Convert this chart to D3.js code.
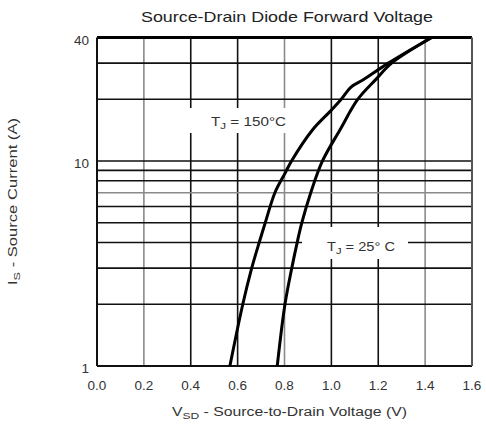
<!DOCTYPE html>
<html><head><meta charset="utf-8">
<script src="https://cdn.jsdelivr.net/npm/d3@7"></script>
<style>body{margin:0;background:#fff}svg{display:block}text{font-family:"Liberation Sans",Arial,sans-serif}</style>
</head><body><svg id="c" width="486" height="425"></svg>
<script>
const xTicks = [0.0,0.2,0.4,0.6,0.8,1.0,1.2,1.4,1.6];
const xTickLabels = ["0.0","0.2","0.4","0.6","0.8","1.0","1.2","1.4","1.6"];
const yGrid = [2,3,4,5,6,7,8,9,10,20,30];
const yTicks = [1,10,40];
const yTickLabels = ["1","10","40"];
// Tj = 150°C
const v150 = [0.567,0.622,0.660,0.692,0.718,0.759,0.802,0.830,0.920,1.000,1.042,1.085,1.136,1.243,1.428];
const i150 = [1,2,3,4,5,7,8.7,10,14.2,17.7,20,23.0,24.9,30,40];
// Tj = 25°C
const v25 = [0.769,0.802,0.831,0.854,0.874,0.912,0.962,1.037,1.113,1.190,1.257,1.428];
const i25 = [1,2,3,4,5,7,10,14.2,20,25,30,40];

const svg = d3.select("#c");
const x = d3.scaleLinear().domain([0,1.6]).range([97,472]);
const y = d3.scaleLog().domain([1,40]).range([366,37.5]);
const lightV = new Set([0.2,0.8,1.4]);
const lightH = new Set([7]);

const g = svg.append("g");
g.selectAll("line.v").data(xTicks.slice(1,-1)).enter().append("line")
  .attr("x1",d=>x(d)).attr("x2",d=>x(d)).attr("y1",y(40)).attr("y2",y(1))
  .attr("stroke",d=>lightV.has(d)?"#8a8a8a":"#111").attr("stroke-width",1.6);
g.selectAll("line.h").data(yGrid).enter().append("line")
  .attr("x1",x(0)).attr("x2",x(1.6)).attr("y1",d=>y(d)).attr("y2",d=>y(d))
  .attr("stroke",d=>lightH.has(d)?"#8a8a8a":"#111").attr("stroke-width",1.6);

g.append("rect").attr("x",175).attr("y",108).attr("width",117).attr("height",25).attr("fill","#fff");
g.append("rect").attr("x",302).attr("y",227).attr("width",106).attr("height",32).attr("fill","#fff");

g.append("line").attr("x1",x(0)).attr("x2",x(1.6)).attr("y1",y(40)).attr("y2",y(40)).attr("stroke","#000").attr("stroke-width",3);
g.append("line").attr("x1",x(0)).attr("x2",x(1.6)).attr("y1",y(1)).attr("y2",y(1)).attr("stroke","#111").attr("stroke-width",2);
g.append("line").attr("x1",x(0)).attr("x2",x(0)).attr("y1",y(40)).attr("y2",y(1)).attr("stroke","#111").attr("stroke-width",2);
g.append("line").attr("x1",x(1.6)).attr("x2",x(1.6)).attr("y1",y(40)).attr("y2",y(1)).attr("stroke","#555").attr("stroke-width",2);

const line = d3.line().x(d=>x(d[0])).y(d=>y(d[1])).curve(d3.curveCatmullRom.alpha(0.5));
[[v150,i150],[v25,i25]].forEach(([v,i])=>{
  g.append("path").datum(v.map((vv,k)=>[vv,i[k]])).attr("d",line)
   .attr("fill","none").attr("stroke","#000").attr("stroke-width",3).attr("stroke-linejoin","round");
});

svg.selectAll("text.xt").data(xTicks).enter().append("text")
  .attr("x",d=>x(d)).attr("y",390).attr("text-anchor","middle")
  .attr("font-size",13.5).attr("fill","#333").text((d,k)=>xTickLabels[k]);
svg.selectAll("text.yt").data(yTicks).enter().append("text")
  .attr("x",89).attr("y",d=>y(d)+7).attr("text-anchor","end")
  .attr("font-size",13.5).attr("fill","#333").text((d,k)=>yTickLabels[k]);

svg.append("text").attr("x",287).attr("y",22).attr("text-anchor","middle")
  .attr("font-size",15).attr("fill","#222").attr("textLength",292).attr("lengthAdjust","spacingAndGlyphs")
  .text("Source-Drain Diode Forward Voltage");

function sub(sel, a, s, b){
  sel.append("tspan").text(a);
  sel.append("tspan").attr("font-size",9.5).attr("dy",3).text(s);
  sel.append("tspan").attr("dy",-3).text(b);
}
const xt = svg.append("text").attr("x",172).attr("y",416).attr("font-size",12.5).attr("fill","#333")
  .attr("textLength",235).attr("lengthAdjust","spacingAndGlyphs");
sub(xt,"V","SD","  -  Source-to-Drain Voltage (V)");

const yt = svg.append("text").attr("transform","translate(17,285) rotate(-90)").attr("font-size",12.5).attr("fill","#333")
  .attr("textLength",167).attr("lengthAdjust","spacingAndGlyphs");
sub(yt,"I","S","  -  Source Current (A)");

const l1 = svg.append("text").attr("x",211).attr("y",126).attr("font-size",12.5).attr("fill","#333")
  .attr("textLength",75).attr("lengthAdjust","spacingAndGlyphs");
sub(l1,"T","J"," = 150°C");
const l2 = svg.append("text").attr("x",327).attr("y",251).attr("font-size",12.5).attr("fill","#333")
  .attr("textLength",68).attr("lengthAdjust","spacingAndGlyphs");
sub(l2,"T","J"," = 25° C");
</script></body></html>
